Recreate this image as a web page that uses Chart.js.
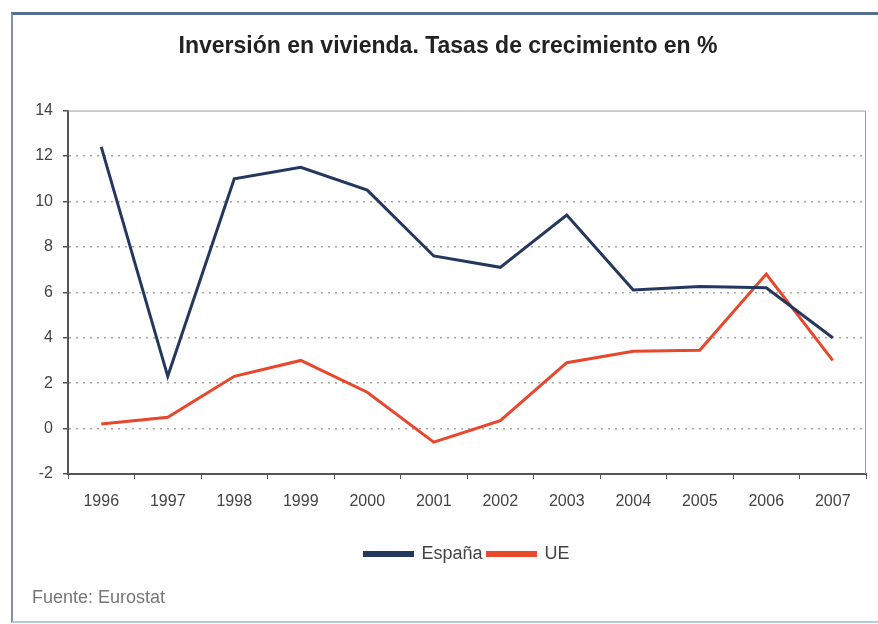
<!DOCTYPE html>
<html lang="es">
<head>
<meta charset="utf-8">
<script src="https://cdn.jsdelivr.net/npm/chart.js@4.4.1/dist/chart.umd.min.js"></script>
<style>
    html, body { margin: 0; padding: 0; background: #fff; }
    #wrap { position: relative; width: 878px; height: 624px; overflow: hidden; }
    #marco {
        position: absolute; left: 11px; top: 12px; width: 900px; height: 606px;
        border-left: 2px solid #7d90ad; border-top: 3px solid #566e92;
        border-bottom: 2px solid #b3cbe0;
    }
    #grafico { position: absolute; left: 0; top: 0; }
    #fuente {
        position: absolute; left: 32px; top: 587px;
        font: 18px "Liberation Sans", Arial, sans-serif; color: #777;
    }
</style>
</head>
<body>
<div id="wrap">
    <div id="marco"></div>
    <canvas id="grafico" width="878" height="624"></canvas>
    <div id="fuente">Fuente: Eurostat</div>
</div>
<script>
// Datos: tasas de crecimiento de la inversión en vivienda (%)
const anios = ['1996', '1997', '1998', '1999', '2000', '2001', '2002', '2003', '2004', '2005', '2006', '2007'];
const espana = [12.4, 2.3, 11.0, 11.5, 10.5, 7.6, 7.1, 9.4, 6.1, 6.25, 6.2, 4.0];
const ue = [0.2, 0.5, 2.3, 3.0, 1.6, -0.6, 0.35, 2.9, 3.4, 3.45, 6.8, 3.0];
const ticksY = [-2, 0, 2, 4, 6, 8, 10, 12, 14];

const fuente = '"Liberation Sans", Arial, sans-serif';

// Marco gris del área de trazado (arriba y a la derecha)
const marcoArea = {
    id: 'marcoArea',
    afterDraw(chart) {
        const { ctx, chartArea: a } = chart;
        ctx.save();
        ctx.strokeStyle = '#a0a0a0';
        ctx.lineWidth = 1;
        ctx.beginPath();
        ctx.moveTo(a.left, a.top + 0.5);
        ctx.lineTo(a.right - 0.5, a.top + 0.5);
        ctx.lineTo(a.right - 0.5, a.bottom);
        ctx.stroke();
        ctx.restore();
    }
};

// La leyenda se centra bajo el área de trazado y no bajo todo el lienzo
const leyendaCentrada = {
    id: 'leyendaCentrada',
    afterLayout(chart) {
        const a = chart.chartArea;
        const l = chart.legend;
        const desplaz = (a.left + a.right) / 2 - (l.left + l.right) / 2;
        l.left += desplaz;
        l.right += desplaz;
    }
};

new Chart(document.getElementById('grafico'), {
    type: 'line',
    data: {
        labels: anios,
        datasets: [
            {
                label: 'España',
                data: espana,
                borderColor: '#24375f',
                backgroundColor: '#24375f',
                borderWidth: 3,
                pointRadius: 0,
                tension: 0
            },
            {
                label: 'UE',
                data: ue,
                borderColor: '#e8472c',
                backgroundColor: '#e8472c',
                borderWidth: 3,
                pointRadius: 0,
                tension: 0
            }
        ]
    },
    options: {
        responsive: false,
        animation: false,
        devicePixelRatio: 1,
        layout: { padding: { left: 30, right: 12, top: 0, bottom: 51 } },
        plugins: {
            title: {
                display: true,
                text: 'Inversión en vivienda. Tasas de crecimiento en %',
                color: '#222',
                font: { family: fuente, size: 23, weight: 'bold' },
                padding: { top: 33, bottom: 50 }
            },
            legend: {
                position: 'bottom',
                labels: {
                    boxWidth: 48,
                    boxHeight: 3,
                    padding: 5,
                    color: '#444',
                    font: { family: fuente, size: 18 }
                }
            },
            tooltip: { enabled: false }
        },
        scales: {
            x: {
                offset: true,
                grid: {
                    offset: true,
                    drawOnChartArea: false,
                    drawTicks: true,
                    tickLength: 5,
                    color: '#555'
                },
                border: { color: '#555', width: 2 },
                ticks: {
                    color: '#444',
                    padding: 13,
                    maxRotation: 0,
                    font: { family: fuente, size: 16 }
                },
                afterFit(scale) { scale.height = 66; }
            },
            y: {
                min: -2,
                max: 14,
                afterBuildTicks(scale) {
                    scale.ticks = ticksY.map(v => ({ value: v }));
                },
                grid: {
                    color: ctx => (ctx.tick && (ctx.tick.value === 14 || ctx.tick.value === -2)) ? 'rgba(0,0,0,0)' : '#a5a5a5',
                    lineWidth: 1.5,
                    drawTicks: true,
                    tickLength: 5,
                    tickColor: '#555',
                    tickBorderDash: []
                },
                border: { color: '#555', width: 2, dash: [2, 5] },
                ticks: {
                    color: '#444',
                    padding: 10,
                    font: { family: fuente, size: 16 }
                },
                afterFit(scale) { scale.width = 38; }
            }
        }
    },
    plugins: [marcoArea, leyendaCentrada]
});
</script>
</body>
</html>
